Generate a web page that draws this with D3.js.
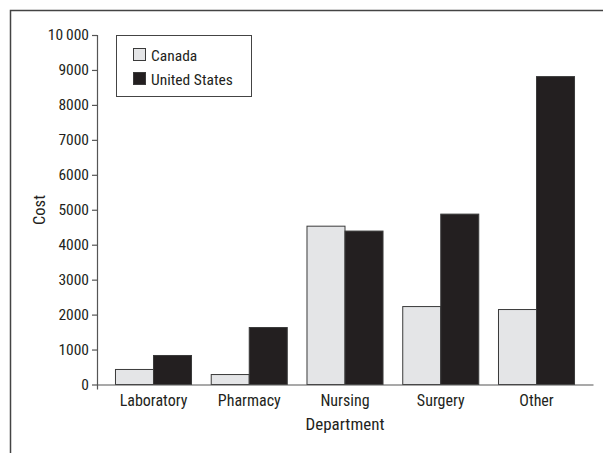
<!DOCTYPE html>
<html>
<head>
<style>
  body { margin: 0; background: #fff; }
  svg text { font-family: "Roboto Condensed", "Liberation Sans Narrow", "Liberation Sans", sans-serif; fill: #231f20; }
</style>
</head>
<body>
<svg></svg>
<script src="https://d3js.org/d3.v7.min.js"></script>
<script>
  const width = 603;
  const height = 453;

  const departments = ['Laboratory', 'Pharmacy', 'Nursing', 'Surgery', 'Other'];
  const seriesNames = ['Canada', 'United States'];
  const canada = [430, 285, 4530, 2230, 2145];
  const unitedStates = [830, 1630, 4390, 4875, 8810];
  const yTicks = [0, 1000, 2000, 3000, 4000, 5000, 6000, 7000, 8000, 9000, 10000];
  const colours = ['#e4e5e7', '#231f20'];

  const margin = {top: 35, left: 97, right: 10, bottom: 68};
  const fontSize = 15.5;
  const svg = d3.select('svg').attr('width', width).attr('height', height);

  // outer frame (top + left only visible)
  svg.append('path')
    .attr('d', `M10.5,${height} V10.5 H${width}`)
    .attr('fill', 'none').attr('stroke', '#444').attr('stroke-width', 1.5);

  const x = d3.scaleBand()
    .domain(departments)
    .range([margin.left, width - margin.right])
    .paddingInner(0.206).paddingOuter(0.193);

  const x1 = d3.scaleBand().domain(seriesNames).range([0, x.bandwidth()]);

  const y = d3.scaleLinear().domain([0, 10000]).range([384.5, 35]);

  const rows = departments.map((d, i) => ({dept: d, values: [canada[i], unitedStates[i]]}));

  svg.append('g').selectAll('g')
    .data(rows).join('g')
    .attr('transform', d => `translate(${x(d.dept)},0)`)
    .selectAll('rect')
    .data(d => d.values.map((v, j) => ({name: seriesNames[j], v: v, j: j})))
    .join('rect')
    .attr('x', d => x1(d.name))
    .attr('width', x1.bandwidth())
    .attr('y', d => y(d.v))
    .attr('height', d => y(0) - y(d.v))
    .attr('fill', d => colours[d.j])
    .attr('stroke', '#3a3a3a').attr('stroke-width', 1);

  // y axis
  const yAxis = svg.append('g')
    .attr('transform', `translate(${margin.left},0)`)
    .call(d3.axisLeft(y).tickValues(yTicks).tickSize(5).tickPadding(3)
      .tickFormat(d => d === 10000 ? '10\u2009000' : d));
  yAxis.select('.domain').attr('d', `M0.5,${y(10000)}V${y(0) + 5}`);
  yAxis.selectAll('line, .domain').attr('stroke', '#555').attr('stroke-width', 1.2);
  yAxis.selectAll('text').attr('font-size', fontSize).attr('fill', '#231f20');

  // x axis
  const xAxis = svg.append('g')
    .attr('transform', `translate(0,${y(0)})`)
    .call(d3.axisBottom(x).tickSize(0).tickPadding(10));
  xAxis.select('.domain').attr('stroke', '#555').attr('stroke-width', 1.2);
  xAxis.selectAll('text').attr('font-size', 16).attr('fill', '#231f20');

  svg.append('text')
    .attr('x', 345)
    .attr('y', 430)
    .attr('text-anchor', 'middle')
    .attr('font-size', 17)
    .text('Department');

  svg.append('text')
    .attr('transform', 'translate(45,210) rotate(-90)')
    .attr('text-anchor', 'middle')
    .attr('font-size', 16.5)
    .text('Cost');

  // legend
  const legend = svg.append('g');
  legend.append('rect')
    .attr('x', 116.5).attr('y', 35.5).attr('width', 135).attr('height', 61)
    .attr('fill', '#fff').attr('stroke', '#444').attr('stroke-width', 1);
  seriesNames.forEach((name, i) => {
    legend.append('rect')
      .attr('x', 133.5).attr('y', 48.5 + i * 24).attr('width', 12).attr('height', 12)
      .attr('fill', colours[i]).attr('stroke', '#3a3a3a');
    legend.append('text')
      .attr('x', 151).attr('y', 60.5 + i * 24)
      .attr('font-size', 15.5)
      .text(name);
  });
</script>
</body>
</html>
